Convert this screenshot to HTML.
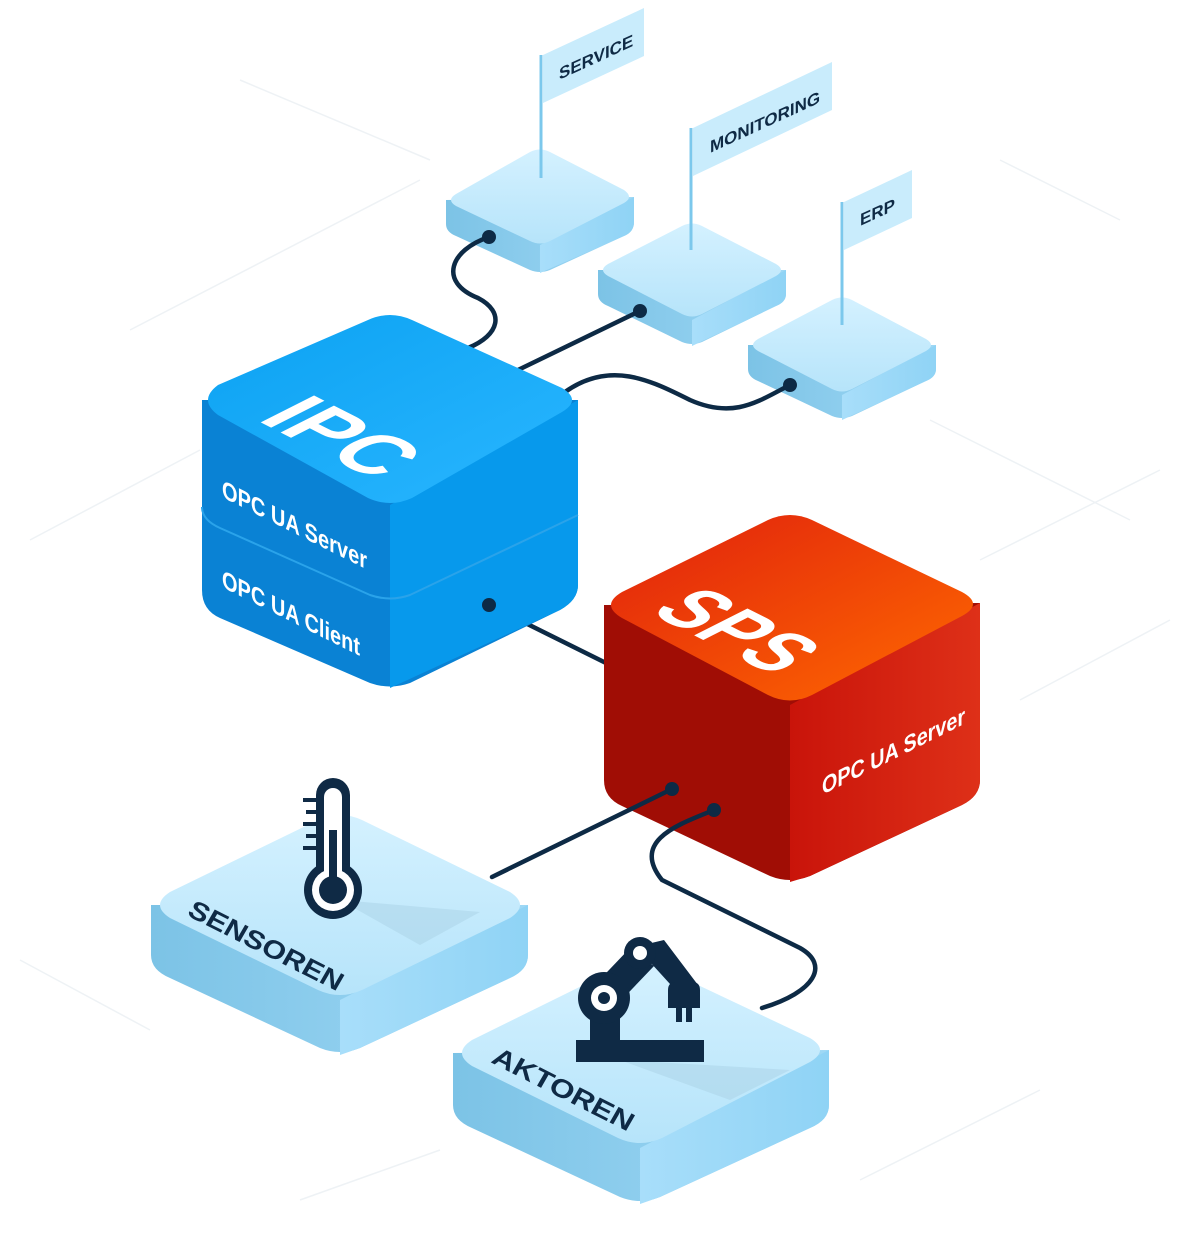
<!DOCTYPE html>
<html><head><meta charset="utf-8"><style>
html,body{margin:0;padding:0;background:#fff}
svg{display:block}
text{font-family:"Liberation Sans",sans-serif;font-weight:bold}
</style></head><body>
<svg width="1200" height="1250" viewBox="0 0 1200 1250" xmlns="http://www.w3.org/2000/svg">
<defs>
<linearGradient id="tileTop" x1="0" y1="0" x2="0" y2="1"><stop offset="0" stop-color="#d4f1ff"/><stop offset="1" stop-color="#b6e4fa"/></linearGradient>
<linearGradient id="tileL" x1="0" y1="0" x2="1" y2="0"><stop offset="0" stop-color="#7cc3e6"/><stop offset="1" stop-color="#9fd8f5"/></linearGradient>
<linearGradient id="tileR" x1="0" y1="0" x2="1" y2="0"><stop offset="0" stop-color="#a8defa"/><stop offset="1" stop-color="#8fd3f5"/></linearGradient>
<linearGradient id="sps" x1="0" y1="0" x2="1" y2="1"><stop offset="0" stop-color="#e0200d"/><stop offset="1" stop-color="#ff6a00"/></linearGradient>
<linearGradient id="spsR" x1="0" y1="0" x2="1" y2="0"><stop offset="0" stop-color="#c9140a"/><stop offset="1" stop-color="#de3018"/></linearGradient>
<linearGradient id="ipcTop" x1="0" y1="0" x2="1" y2="1"><stop offset="0" stop-color="#0ca2f2"/><stop offset="1" stop-color="#29b6ff"/></linearGradient>
</defs>
<g stroke="#eef2f5" stroke-width="1.5" fill="none">
<path d="M130 330 L420 180 M30 540 L200 450 M980 560 L1160 470 M1020 700 L1170 620 M860 1180 L1040 1090 M20 960 L150 1030 M1000 160 L1120 220 M240 80 L430 160 M930 420 L1130 520 M300 1200 L440 1150"/>
</g>
<g>
<path d="M446 200 L446 224 Q446 232 456 236 L530 270 Q540 274 550 270 L624 236 Q634 232 634 222 L634 197 Z" fill="url(#tileL)"/>
<path d="M540 245 L540 273 L624 236 Q634 232 634 222 L634 197 Z" fill="url(#tileR)"/>
<path d="M456 194 L530 152 Q540 147 550 152 L624 190 Q634 197 624 203 L550 241 Q540 246 530 241 L456 206 Q446 200 456 194 Z" fill="url(#tileTop)"/>
</g>
<g>
<path d="M598 270 L598 294 Q598 302 608 306 L682 342 Q692 346 702 342 L776 306 Q786 302 786 294 L786 270 Z" fill="url(#tileL)"/>
<path d="M692 320 L692 346 L776 306 Q786 302 786 294 L786 270 Z" fill="url(#tileR)"/>
<path d="M608 264 L682 226 Q692 221 702 226 L776 264 Q786 270 776 276 L702 314 Q692 319 682 314 L608 276 Q598 270 608 264 Z" fill="url(#tileTop)"/>
</g>
<g>
<path d="M748 345 L748 369 Q748 377 758 381 L832 416 Q842 420 852 416 L926 381 Q936 377 936 369 L936 345 Z" fill="url(#tileL)"/>
<path d="M842 395 L842 420 L926 381 Q936 377 936 369 L936 345 Z" fill="url(#tileR)"/>
<path d="M758 339 L832 300 Q842 295 852 300 L926 339 Q936 345 926 351 L852 389 Q842 394 832 389 L758 351 Q748 345 758 339 Z" fill="url(#tileTop)"/>
</g>
<g stroke="#7cc8ec" stroke-width="3"><line x1="541" y1="178" x2="541" y2="55"/><line x1="691" y1="250" x2="691" y2="128"/><line x1="842" y1="325" x2="842" y2="202"/></g>
<polygon points="543,55 644,8 644,56 543,103" fill="#c9ecfc"/>
<polygon points="693,128 832,62 832,110 693,176" fill="#c9ecfc"/>
<polygon points="844,202 912,170 912,218 844,250" fill="#c9ecfc"/>
<text transform="matrix(1,-0.46,0,1,559,80)" font-size="17" fill="#0f2a45">SERVICE</text>
<text transform="matrix(1,-0.46,0,1,710,153)" font-size="17" fill="#0f2a45">MONITORING</text>
<text transform="matrix(1,-0.46,0,1,860,226)" font-size="17" fill="#0f2a45">ERP</text>
<g stroke="#0d2a45" stroke-width="4.5" fill="none" stroke-linecap="round">
<path d="M489 237 C450 250 438 282 478 298 C505 312 500 335 468 348"/>
<path d="M640 311 L518 370"/>
<path d="M790 385 C760 400 735 420 690 400 C650 380 610 360 565 392"/>
<path d="M489 605 L610 665"/>
</g>
<g fill="#0d2a45"><circle cx="489" cy="237" r="7"/><circle cx="640" cy="311" r="7"/><circle cx="790" cy="385" r="7"/></g>
<path d="M202 400 L202 590 Q202 610 220 618 L370 683 Q390 690 410 683 L560 610 Q578 600 578 585 L578 400 Z" fill="#0a82d4"/>
<path d="M390 505 L390 688 L560 610 Q578 600 578 585 L578 400 Z" fill="#0799ec"/>
<path d="M202 507 Q202 520 220 528 L370 595 Q390 602 410 595 L578 515" fill="none" stroke="#2aa3ea" stroke-width="2"/>
<path d="M218 385 L368 320 Q390 310 412 320 L562 388 Q582 400 562 412 L412 498 Q390 508 368 498 L218 415 Q198 400 218 385 Z" fill="url(#ipcTop)"/>
<text transform="matrix(0.89,0.45,-0.89,0.45,256,420) scale(1.2,1.5)" font-size="58" fill="#fff" textLength="112" lengthAdjust="spacingAndGlyphs">IPC</text>
<text transform="matrix(1,0.5,0,1,222,497)" font-size="25" fill="#fff" textLength="145" lengthAdjust="spacingAndGlyphs">OPC UA Server</text>
<text transform="matrix(1,0.5,0,1,222,587)" font-size="25" fill="#fff" textLength="138" lengthAdjust="spacingAndGlyphs">OPC UA Client</text>
<circle cx="489" cy="605" r="7" fill="#0d2a45"/>
<path d="M604 605 L604 780 Q604 798 622 806 L770 876 Q790 884 810 876 L962 805 Q980 796 980 780 L980 603 Z" fill="#a00d05"/>
<path d="M790 705 L790 882 L810 876 L962 805 Q980 796 980 780 L980 603 Z" fill="url(#spsR)"/>
<path d="M622 592 L768 520 Q790 510 812 520 L962 592 Q984 604 962 616 L812 695 Q790 706 768 695 L622 618 Q600 605 622 592 Z" fill="url(#sps)"/>
<text transform="matrix(0.89,0.45,-0.89,0.45,648,612) scale(1.2,1.5)" font-size="58" fill="#fff" textLength="118" lengthAdjust="spacingAndGlyphs">SPS</text>
<text transform="matrix(1,-0.5,0,1,822,795)" font-size="24" fill="#fff" textLength="143" lengthAdjust="spacingAndGlyphs">OPC UA Server</text>
<g>
<path d="M151 905 L151 955 Q151 970 170 978 L320 1048 Q340 1056 360 1048 L510 978 Q528 970 528 955 L528 905 Z" fill="url(#tileL)"/>
<path d="M340 1000 L340 1055 L360 1048 L510 978 Q528 970 528 955 L528 905 Z" fill="url(#tileR)"/>
<path d="M170 892 L318 820 Q340 810 362 820 L510 892 Q530 905 510 918 L362 990 Q340 1000 318 990 L170 918 Q150 905 170 892 Z" fill="url(#tileTop)"/>
<polygon points="340,900 480,912 420,945" fill="#a9d2e6" opacity="0.5"/>
</g>
<g>
<path d="M453 1053 L453 1105 Q453 1120 472 1128 L620 1197 Q640 1205 660 1197 L810 1128 Q829 1120 829 1105 L829 1050 Z" fill="url(#tileL)"/>
<path d="M640 1148 L640 1204 L660 1197 L810 1128 Q829 1120 829 1105 L829 1050 Z" fill="url(#tileR)"/>
<path d="M472 1040 L618 968 Q640 958 662 968 L810 1038 Q830 1050 810 1062 L662 1138 Q640 1148 618 1138 L472 1066 Q452 1053 472 1040 Z" fill="url(#tileTop)"/>
<polygon points="620,1060 790,1070 730,1100" fill="#a9d2e6" opacity="0.5"/>
</g>
<text transform="matrix(0.89,0.45,-0.5,0.87,186,915)" font-size="26" fill="#0f2a45" textLength="170" lengthAdjust="spacingAndGlyphs">SENSOREN</text>
<text transform="matrix(0.89,0.45,-0.5,0.87,490,1062)" font-size="26" fill="#0f2a45" textLength="155" lengthAdjust="spacingAndGlyphs">AKTOREN</text>
<g>
<rect x="316" y="778" width="34" height="110" rx="17" fill="#0f2a45"/>
<circle cx="333" cy="890" r="29" fill="#0f2a45"/>
<rect x="324" y="788" width="18" height="100" rx="9" fill="#fff"/>
<circle cx="333" cy="890" r="21" fill="#fff"/>
<circle cx="333" cy="890" r="14" fill="#0f2a45"/>
<rect x="329" y="830" width="8" height="60" fill="#0f2a45"/>
<g stroke="#0f2a45" stroke-width="4"><line x1="303" y1="800" x2="316" y2="800"/><line x1="306" y1="812" x2="316" y2="812"/><line x1="303" y1="824" x2="316" y2="824"/><line x1="306" y1="836" x2="316" y2="836"/><line x1="303" y1="848" x2="316" y2="848"/></g>
</g>
<g fill="#0f2a45">
<rect x="576" y="1040" width="128" height="22"/>
<rect x="590" y="1010" width="30" height="34"/>
<path d="M588 992 L630 948 L654 966 L612 1010 Z"/>
<path d="M630 948 L664 940 L698 985 L680 995 L650 962 Z"/>
<circle cx="604" cy="998" r="26"/>
<circle cx="604" cy="998" r="13" fill="#fff"/>
<circle cx="604" cy="998" r="6"/>
<circle cx="640" cy="953" r="16"/>
<circle cx="640" cy="953" r="7" fill="#fff"/>
<path d="M668 990 Q668 982 676 982 L692 982 Q700 982 700 990 L700 1008 L692 1008 L692 1022 L686 1022 L686 1008 L682 1008 L682 1022 L676 1022 L676 1008 L668 1008 Z"/>
</g>
<g stroke="#0d2a45" stroke-width="4.5" fill="none" stroke-linecap="round">
<path d="M672 789 L492 877"/>
<path d="M714 810 C680 824 630 840 662 880 L800 948 C830 965 815 992 762 1008"/>
</g>
<g fill="#0d2a45"><circle cx="672" cy="789" r="7"/><circle cx="714" cy="810" r="7"/></g>
</svg>
</body></html>
